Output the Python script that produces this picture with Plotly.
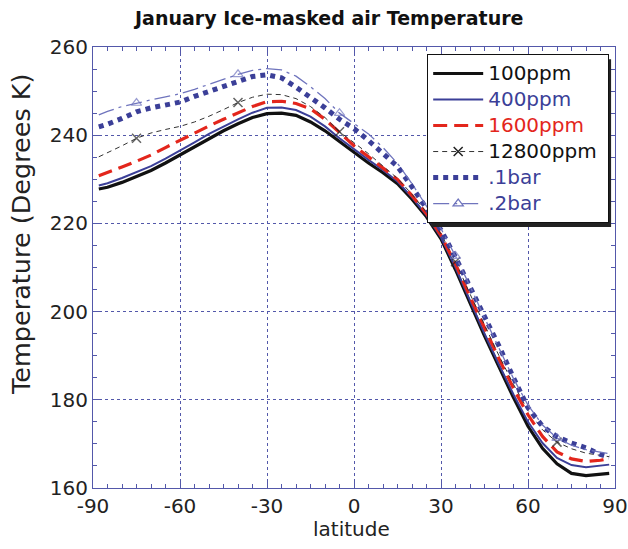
import plotly.graph_objects as go

# ---------------- data ----------------
latitude = [-88, -85, -80, -75, -70, -65, -60, -55, -50, -45, -40, -35, -30, -25, -20, -15, -10, -5,
            0, 5, 10, 15, 20, 25, 30, 35, 40, 45, 50, 55, 60, 65, 70, 75, 80, 85, 88]

t_100ppm = [227.8, 228.2, 229.3, 230.6, 232.0, 233.7, 235.5, 237.4, 239.3, 241.0, 242.6, 244.0, 244.9,
            245.0, 244.5, 243.0, 241.0, 238.5, 236.0, 233.7, 231.5, 229.0, 225.5, 221.5, 216.5, 209.5,
            202.0, 194.5, 187.5, 180.5, 174.0, 169.0, 165.5, 163.3, 162.8, 163.0, 163.3]
t_400ppm = [228.6, 229.1, 230.3, 231.6, 233.0, 234.7, 236.5, 238.4, 240.3, 242.0, 243.6, 245.1, 246.2,
            246.3, 245.7, 244.2, 242.0, 239.3, 236.8, 234.4, 232.1, 229.5, 225.9, 221.8, 216.8, 210.0,
            202.5, 195.0, 188.0, 181.2, 175.0, 170.2, 166.8, 165.2, 164.7, 165.0, 165.3]
t_1600ppm = [230.8, 231.5, 232.8, 234.1, 235.5, 237.2, 238.9, 240.5, 242.1, 243.6, 245.0, 246.5, 247.6,
             247.7, 247.2, 246.0, 243.6, 240.6, 237.6, 235.1, 232.6, 230.0, 226.3, 222.2, 217.3, 210.8,
             203.4, 196.2, 189.3, 182.6, 176.6, 171.7, 168.2, 166.6, 166.0, 166.3, 166.7]
t_12800ppm = [235.1, 236.0, 237.6, 239.3, 240.5, 241.3, 242.0, 243.0, 244.3, 245.8, 247.4, 248.6, 249.3,
              249.2, 248.3, 246.5, 244.0, 240.8, 238.3, 235.8, 233.0, 230.2, 226.6, 222.5, 217.6, 211.3,
              204.0, 197.0, 190.0, 183.5, 177.6, 173.2, 170.4, 168.9, 167.9, 167.4, 167.1]
t_01bar = [241.9, 242.5, 243.8, 245.3, 246.2, 246.9, 247.5, 248.8, 249.9, 250.9, 252.1, 253.3, 253.7,
           253.0, 250.9, 248.6, 246.2, 243.6, 241.5, 238.8, 236.0, 232.9, 228.3, 223.4, 218.5, 212.3,
           205.8, 199.3, 192.2, 185.0, 178.2, 174.0, 171.6, 170.2, 169.1, 167.6, 167.0]
t_02bar = [244.6, 245.4, 246.5, 247.3, 248.0, 248.7, 249.4, 250.4, 251.5, 252.7, 253.8, 254.7, 255.1,
           254.8, 253.4, 251.0, 248.3, 245.0, 242.6, 240.3, 237.2, 233.6, 229.0, 224.0, 218.8, 212.6,
           205.8, 198.6, 191.5, 184.8, 178.8, 174.3, 171.3, 169.7, 168.7, 168.1, 167.8]

marker_latitudes = [-75, -40, -5, 35, 70]

series_names = ["100ppm", "400ppm", "1600ppm", "12800ppm", ".1bar", ".2bar"]
x_ticks = [-90, -60, -30, 0, 30, 60, 90]
y_ticks = [160, 180, 200, 220, 240, 260]

# ---------------- style ----------------
BLUE = "#3b3f98"
LIGHTBLUE = "#6f74bd"
RED = "#e3261c"
GRID = "#5358aa"
FONT = "DejaVu Sans, Verdana, sans-serif"

marker_sizes = [9 if lat in marker_latitudes else 0 for lat in latitude]


def label(text, color, pad=""):
    return f"<span style='color:{color};font-size:20px'>{text}{pad}</span>"


fig = go.Figure()

# 100ppm
fig.add_trace(go.Scatter(x=latitude, y=t_100ppm, mode="lines", name=label(series_names[0], "#111111"),
                         line=dict(color="#111111", width=3.2)))
# 400ppm
fig.add_trace(go.Scatter(x=latitude, y=t_400ppm, mode="lines", name=label(series_names[1], BLUE),
                         line=dict(color=BLUE, width=2)))
# 1600ppm
fig.add_trace(go.Scatter(x=latitude, y=t_1600ppm, mode="lines", name=label(series_names[2], RED),
                         line=dict(color=RED, width=3.2, dash="14px,7px")))
# 12800ppm (line + sparse markers)
fig.add_trace(go.Scatter(x=latitude, y=t_12800ppm, mode="lines+markers", showlegend=False,
                         line=dict(color="#333333", width=1, dash="5px,4px"),
                         marker=dict(symbol="x-thin", size=marker_sizes,
                                     line=dict(color="#222222", width=1.5))))
fig.add_trace(go.Scatter(x=[None], y=[None], mode="lines+markers",
                         name=label(series_names[3], "#111111", "&nbsp;"),
                         line=dict(color="#333333", width=1, dash="5px,4px"),
                         marker=dict(symbol="x-thin", size=9, line=dict(color="#222222", width=1.5))))
# .1bar
fig.add_trace(go.Scatter(x=latitude, y=t_01bar, mode="lines", name=label(series_names[4], BLUE),
                         line=dict(color=BLUE, width=5, dash="5px,5px")))
# .2bar (line + sparse markers)
fig.add_trace(go.Scatter(x=latitude, y=t_02bar, mode="lines+markers", showlegend=False,
                         line=dict(color=LIGHTBLUE, width=1.3, dash="16px,5px,3px,5px"),
                         marker=dict(symbol="triangle-up-open", size=marker_sizes,
                                     color=LIGHTBLUE, line=dict(width=1.2))))
fig.add_trace(go.Scatter(x=[None], y=[None], mode="lines+markers", name=label(series_names[5], BLUE),
                         line=dict(color=LIGHTBLUE, width=1.3, dash="16px,5px,3px,5px"),
                         marker=dict(symbol="triangle-up-open", size=9, color=LIGHTBLUE,
                                     line=dict(width=1.2))))

axis_common = dict(
    showline=True, linecolor=GRID, linewidth=1, mirror="allticks",
    ticks="inside", ticklen=7, tickcolor=GRID, tickwidth=1,
    showgrid=True, gridcolor=GRID, gridwidth=1, griddash="dot",
    zeroline=False, automargin=False,
    tickfont=dict(family=FONT, size=20, color="#222222"),
    minor=dict(ticks="inside", ticklen=4, tickcolor=GRID, dtick=5, showgrid=False),
)

fig.update_layout(
    width=628, height=549,
    margin=dict(l=92.5, r=13, t=46.7, b=60.6),
    paper_bgcolor="white", plot_bgcolor="white",
    title=dict(text="<b>January Ice-masked air Temperature</b>", x=0.4526, xref="paper",
               y=1 - 18 / 549, yref="container", yanchor="middle", xanchor="center",
               font=dict(family=FONT, size=19, color="#111111")),
    xaxis=dict(range=[-90, 90], tickvals=x_ticks, ticktext=[str(v) for v in x_ticks], **axis_common),
    yaxis=dict(range=[160, 260], tickvals=y_ticks, ticktext=[str(v) for v in y_ticks], **axis_common),
    legend=dict(x=0.6402, y=0.983, xanchor="left", yanchor="top",
                bgcolor="white", bordercolor="#111111", borderwidth=1,
                font=dict(family=FONT, size=17.7, color="#111111"),
                itemwidth=50, tracegroupgap=0),
    showlegend=True,
)

# axis titles
fig.add_annotation(text="latitude", xref="paper", yref="paper", x=0.495, y=-0.094,
                   xanchor="center", yanchor="middle", showarrow=False,
                   font=dict(family=FONT, size=20, color="#222222"))
fig.add_annotation(text="Temperature (Degrees K)", xref="paper", yref="paper", x=-0.137, y=0.575,
                   xanchor="center", yanchor="middle", textangle=-90, showarrow=False,
                   font=dict(family=FONT, size=25.5, color="#222222"))

# legend drop shadow
fig.add_shape(type="rect", xref="paper", yref="paper", x0=0.6478, x1=0.9925, y0=0.5918, y1=0.9722,
              fillcolor="#222222", line=dict(width=0), layer="above")

# remove the page's default body margin so the figure fills the window exactly
fig.write_html("out.html", config={"displayModeBar": False},
               post_script="document.body.style.margin='0px';document.body.style.overflow='hidden';")
